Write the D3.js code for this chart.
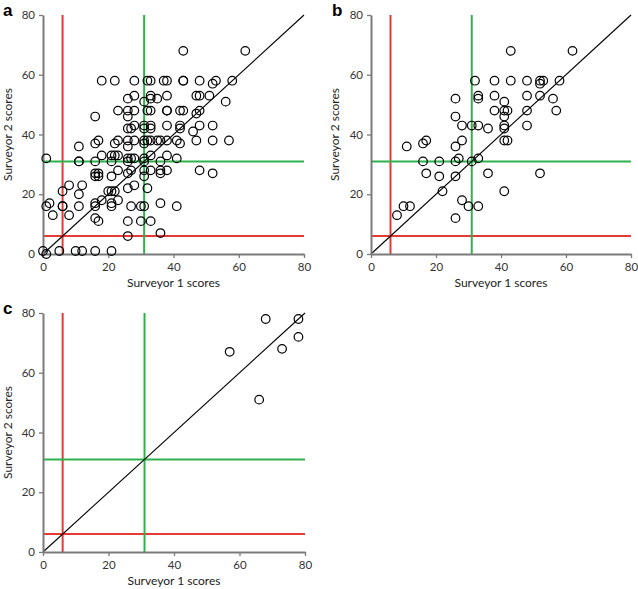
<!DOCTYPE html>
<html><head><meta charset="utf-8">
<script src="https://cdn.jsdelivr.net/npm/d3@7"></script>
<style>
body{margin:0;background:#fff;}
svg{display:block;font-family:Lato,"Open Sans",sans-serif;}
</style></head>
<body>
<svg id="chart" width="638" height="589"></svg>
<script>
const ticks = [0, 20, 40, 60, 80];
const redThreshold = 6;
const greenThreshold = 31;
const xTitle = "Surveyor 1 scores";
const yTitle = "Surveyor 2 scores";

// Panel a: [surveyor1, surveyor2]
const panelA = [
 [43,68],[62,68],
 [18,58],[22,58],[28,58],[32,58],[33,58],[37,58],[38,58],[43,58],[43,58],[48,58],[52,57],[53,58],[58,58],
 [26,52],[28,53],[31,51],[33,53],[33,52],[35,52],[38,53],[47,53],[48,53],[51,53],[56,51],
 [16,46],[23,48],[26,48],[28,48],[26,46],[32,48],[33,48],[38,48],[38,48],[42,48],[43,48],[47,47],[48,48],
 [26,42],[27,42],[28,43],[31,43],[31,42],[33,43],[33,42],[38,43],[42,43],[42,42],[46,41],[48,43],[52,43],
 [11,36],[16,37],[17,38],[22,37],[23,38],[26,38],[26,36],[28,38],[31,38],[31,37],[32,38],[33,38],[35,38],[36,38],[38,38],[41,38],[42,37],[47,38],[52,38],[57,38],
 [1,32],[18,33],[21,33],[22,33],[23,33],[26,32],[27,32],[28,32],[31,32],[33,33],[38,33],[41,32],
 [11,31],[11,31],[16,31],[21,31],[26,31],[31,31],[36,31],
 [16,27],[17,27],[16,26],[17,26],[21,26],[23,28],[26,27],[27,28],[31,28],[31,26],[33,28],[36,28],[36,27],[38,28],[48,28],[52,27],
 [6,21],[8,23],[12,23],[11,20],[20,21],[21,21],[22,21],[26,22],[28,23],[32,22],
 [1,16],[2,17],[6,16],[6,16],[11,16],[16,17],[16,16],[18,18],[21,17],[21,16],[23,18],[27,16],[30,16],[31,16],[36,17],[41,16],
 [3,13],[8,13],[16,12],[17,11],[26,11],[30,11],[33,11],
 [26,6],[36,7],[0,1],[1,0],[5,1],[10,1],[12,1],[16,1],[21,1]
];
// Panel b
const panelB = [
 [43,68],[62,68],
 [32,58],[38,58],[43,58],[48,58],[52,58],[52,57],[53,58],[58,58],
 [33,53],[33,52],[38,53],[48,53],[52,53],[26,52],[56,52],[41,51],
 [38,48],[41,48],[42,48],[48,48],[57,48],[26,46],[41,46],
 [28,43],[31,43],[33,43],[36,42],[41,43],[41,42],[48,43],
 [28,38],[41,38],[42,38],[17,38],[16,37],[26,36],[11,36],
 [16,31],[21,31],[26,31],[27,32],[31,31],[33,32],
 [17,27],[36,27],[52,27],[21,26],[26,26],
 [22,21],[41,21],[28,18],[30,16],[33,16],[10,16],[12,16],[8,13],[26,12]
];
// Panel c
const panelC = [[57,67],[68,78],[78,78],[78,72],[73,68],[66,51]];

const panels = [
  {label:"a", data:panelA, x0:43, x1:304, y0:254, y1:15, lx:3, ly:16, ytx:9},
  {label:"b", data:panelB, x0:371, x1:631, y0:254, y1:15, lx:332, ly:16, ytx:336},
  {label:"c", data:panelC, x0:43, x1:305, y0:552, y1:313, lx:3, ly:314, ytx:9}
];

const svg = d3.select("#chart");
const RED = "#e53935", GREEN = "#2fb24c";

panels.forEach(p => {
  const x = d3.scaleLinear().domain([0,80]).range([p.x0,p.x1]);
  const y = d3.scaleLinear().domain([0,80]).range([p.y0,p.y1]);
  const g = svg.append("g");

  [[redThreshold,RED],[greenThreshold,GREEN]].forEach(([t,c]) => {
    g.append("line").attr("x1",x(t)).attr("x2",x(t)).attr("y1",y(0)).attr("y2",y(80))
      .attr("stroke",c).attr("stroke-width",2);
    g.append("line").attr("x1",x(0)).attr("x2",x(80)).attr("y1",y(t)).attr("y2",y(t))
      .attr("stroke",c).attr("stroke-width",2);
  });
  g.append("line").attr("x1",x(0)).attr("y1",y(0)).attr("x2",x(80)).attr("y2",y(80))
    .attr("stroke","#000").attr("stroke-width",1.1);

  const xAxis = g.append("g").attr("transform",`translate(0,${p.y0})`)
    .call(d3.axisBottom(x).tickValues(ticks).tickSize(4).tickPadding(5).tickSizeOuter(0));
  const yAxis = g.append("g").attr("transform",`translate(${p.x0},0)`)
    .call(d3.axisLeft(y).tickValues(ticks).tickSize(4).tickPadding(4).tickSizeOuter(0));
  [xAxis,yAxis].forEach(a => {
    a.select(".domain").attr("stroke","#7a7a7a").attr("stroke-width",2);
    a.selectAll(".tick line").attr("stroke","#7a7a7a").attr("stroke-width",1.3);
    a.selectAll(".tick text").attr("fill","#333").attr("font-size",11.5).attr("font-family","Lato, sans-serif");
  });

  g.append("g").selectAll("circle").data(p.data).join("circle")
    .attr("cx",d=>x(d[0])).attr("cy",d=>y(d[1])).attr("r",4.3)
    .attr("fill","none").attr("stroke","#000").attr("stroke-width",1.2);

  g.append("text").attr("x",(p.x0+p.x1)/2).attr("y",p.y0+33).attr("text-anchor","middle")
    .attr("font-size",12).attr("fill","#222").text(xTitle);
  g.append("text").attr("transform",`translate(${p.ytx},${(p.y0+p.y1)/2}) rotate(-90)`)
    .attr("text-anchor","middle").attr("dominant-baseline","middle")
    .attr("font-size",12).attr("fill","#222").text(yTitle);
  g.append("text").attr("x",p.lx).attr("y",p.ly).attr("font-size",17).attr("font-weight","bold")
    .attr("font-family","Liberation Sans, Arial, sans-serif").attr("fill","#000").text(p.label);
});
</script>
</body></html>
